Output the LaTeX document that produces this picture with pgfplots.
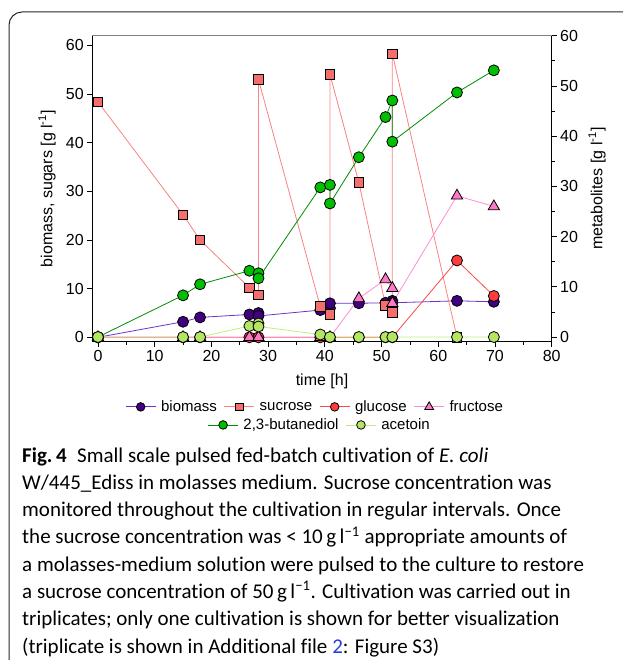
\documentclass[border=0pt]{standalone}
\usepackage{pgfplots}
\pgfplotsset{compat=1.18}
\usepackage{fontspec}
\setmainfont{Liberation Sans}
\newfontfamily\capfont[Ligatures=NoCommon]{Carlito}
\definecolor{bioF}{RGB}{64,0,128}
\definecolor{bioL}{RGB}{110,50,200}
\definecolor{sucF}{RGB}{245,110,110}
\definecolor{sucL}{RGB}{250,130,130}
\definecolor{gluF}{RGB}{255,60,60}
\definecolor{gluL}{RGB}{255,70,70}
\definecolor{fruF}{RGB}{255,120,200}
\definecolor{fruL}{RGB}{255,140,210}
\definecolor{butF}{RGB}{0,190,0}
\definecolor{butL}{RGB}{0,140,0}
\definecolor{aceF}{RGB}{180,230,100}
\definecolor{aceL}{RGB}{190,240,120}
\definecolor{linkblue}{RGB}{40,60,220}
\pgfplotsset{
  common/.style={
    at={(92.3pt,-341.7pt)}, anchor=south west, scale only axis,
    width=459.4pt, height=306pt, xmin=-1, xmax=80, clip=false,
    tick align=outside, major tick length=5pt, minor tick length=3pt,
    tick label style={font=\fontsize{16}{16}\selectfont},
    label style={font=\fontsize{16}{16}\selectfont},
    /pgf/number format/assume math mode=true,
    every tick/.style={black, line width=0.8pt},
    axis line style={black, line width=0.9pt},
    legend cell align=left,
    legend columns=-1,
    legend style={draw=none, fill=none, font=\fontsize{15}{15}\selectfont,
      /tikz/every odd column/.append style={column sep=3pt},
      /tikz/every even column/.append style={column sep=5pt}},
    legend image code/.code={\draw[mark repeat=2,mark phase=2,#1,/tikz/every mark/.append style={scale=0.78}] plot coordinates {(0pt,0pt) (15pt,0pt) (30pt,0pt)};},
  },
  ser/.style n args={3}{color=#2, line width=0.8pt, mark=#1, mark options={fill=#3, draw=black, line width=0.8pt}},
}
\begin{document}
\begin{tikzpicture}
\path[use as bounding box] (0,0) rectangle (622pt,-660pt);
\draw[line width=1pt, black!85] (9pt,-662pt) -- (9pt,-25pt) arc[start angle=180,end angle=90,radius=13pt] -- (624pt,-12pt);

\begin{axis}[common,
  ymin=-0.9, ymax=62,
  axis x line*=bottom, axis y line*=left,
  xtick={0,10,...,80}, minor xtick={5,15,...,75}, ytick={0,10,...,60},
  xlabel={time [h]}, ylabel={biomass, sugars [g l\textsuperscript{-1}]},
  xlabel style={at={(axis description cs:0.5,-0.128)}, anchor=center},
  ylabel style={at={(axis description cs:-0.0986,0.5)}, anchor=center},
  legend style={at={(axis description cs:0.485,-0.213)}, anchor=center},
]
\draw[gray, line width=0.9pt] (rel axis cs:0,1) -- (rel axis cs:1,1);
\addplot[ser={*}{bioL}{bioF}, mark size=5.5pt] coordinates {(0,0) (15,3.2) (18,4.1) (26.7,4.7) (28.3,5.0) (28.3,4.4) (39.2,5.6) (40.9,6.0) (40.9,7.0) (46,7.0) (50.7,7.1) (51.9,7.5) (51.9,7.1) (63.3,7.5) (69.8,7.3)};
\addlegendentry{biomass}
\addplot[ser={square*}{sucL}{sucF}, mark size=4.8pt] coordinates {(0,48.4) (15,25.2) (18,20.0) (26.7,10.2) (28.3,8.7) (28.3,53.0) (39.2,6.3) (40.9,4.7) (40.9,54.1) (46,31.8) (50.7,6.6) (51.9,5.1) (51.9,58.3) (63.3,0)};
\addlegendentry{sucrose}
\addplot[ser={*}{gluL}{gluF}, mark size=5.5pt] coordinates {(0,0) (15,0) (18,0) (26.7,0) (28.3,0) (39.2,0) (40.9,0) (46,0) (50.7,0) (51.9,0) (63.3,15.8) (69.8,8.5)};
\addlegendentry{glucose}
\addplot[ser={triangle*}{fruL}{fruF}, mark size=6.5pt] coordinates {(0,0) (15,0) (18,0) (26.7,0) (28.3,0) (39.2,0) (40.9,0) (46,8.0) (50.7,11.9) (51.9,10.1) (51.9,7.0) (63.3,29.1) (69.8,26.9)};
\addlegendentry{fructose}
\end{axis}

\begin{axis}[common,
  ymin=-0.93, ymax=60,
  axis x line=none, axis y line*=right,
  ytick={0,10,...,60}, minor ytick={5,15,...,55},
  ylabel={metabolites [g l\textsuperscript{-1}]},
  ylabel style={at={(axis description cs:1.0986,0.5)}, anchor=center},
  legend style={at={(axis description cs:0.495,-0.272)}, anchor=center},
]
\addplot[ser={*}{butL}{butF}, mark size=5.5pt] coordinates {(0,0) (15,8.3) (18,10.5) (26.7,13.2) (28.3,12.7) (28.3,11.7) (39.2,29.8) (40.9,30.3) (40.9,26.6) (46,35.8) (50.7,43.8) (51.9,47.1) (51.9,38.9) (63.3,48.7) (69.8,53.1)};
\addlegendentry{2,3-butanediol}
\addplot[ser={*}{aceL}{aceF}, mark size=5.5pt] coordinates {(0,0) (15,0) (18,0) (26.7,2.2) (28.3,2.7) (28.3,2.1) (39.2,0.5) (40.9,0) (46,0) (50.7,0) (51.9,0) (63.3,0) (69.8,0)};
\addlegendentry{acetoin}
\end{axis}

\begin{scope}[every node/.style={anchor=base west, inner sep=0pt, font=\capfont\fontsize{21}{21}\selectfont}]
\node at (22pt,-462pt) {\textbf{Fig.\,4}\enspace Small scale pulsed fed-batch cultivation of \textit{E. coli}};
\node at (22pt,-489.3pt) {W/445\_Ediss in molasses medium. Sucrose concentration was};
\node at (22pt,-516.6pt) {monitored throughout the cultivation in regular intervals. Once};
\node at (22pt,-543.9pt) {the sucrose concentration was < 10\,g\,l\textsuperscript{−1} appropriate amounts of};
\node at (22pt,-571.2pt) {a molasses-medium solution were pulsed to the culture to restore};
\node at (22pt,-598.5pt) {a sucrose concentration of 50\,g\,l\textsuperscript{−1}. Cultivation was carried out in};
\node at (22pt,-625.8pt) {triplicates; only one cultivation is shown for better visualization};
\node at (22pt,-653.1pt) {(triplicate is shown in Additional file \textcolor{linkblue}{2}: Figure S3)};
\end{scope}
\end{tikzpicture}
\end{document}
